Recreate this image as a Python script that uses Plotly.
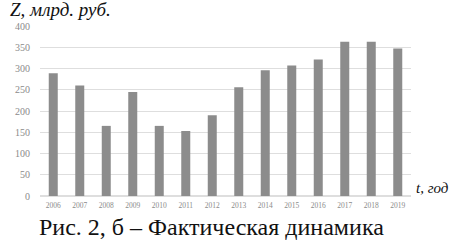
import plotly.graph_objects as go

years = ["2006", "2007", "2008", "2009", "2010", "2011", "2012",
         "2013", "2014", "2015", "2016", "2017", "2018", "2019"]
values = [289, 260, 165, 245, 165, 153, 190, 256, 296, 307, 321, 363, 363, 347]
y_ticks = [0, 50, 100, 150, 200, 250, 300, 350, 400]

PL, PR = 40, 411
PW = PR - PL

fig = go.Figure(go.Bar(x=years, y=values, marker_color="#8c8c8c",
                       marker_line_width=0))

fig.update_layout(
    width=452, height=244,
    margin=dict(l=PL, r=452 - PR, t=26, b=48),
    paper_bgcolor="white", plot_bgcolor="white",
    bargap=0.66,
    showlegend=False,
    font=dict(family="Liberation Serif", color="#999999"),
    xaxis=dict(type="category", tickfont=dict(size=7.5, color="#8a8a8a"),
               showgrid=False, showline=False, ticks="", ticklabelstandoff=3,
               automargin=False),
    yaxis=dict(range=[0, 400], tickvals=y_ticks, showgrid=True,
               gridcolor="#dedede", gridwidth=1, zeroline=True,
               zerolinecolor="#dedede", tickfont=dict(size=10, color="#8a8a8a"),
               ticks="", ticklabelstandoff=9, automargin=False),
    annotations=[
        dict(text="<i>Z, млрд. руб.</i>", xref="paper", yref="paper",
             x=(8 - PL) / PW, y=1, xanchor="left", yanchor="middle", yshift=17,
             showarrow=False, font=dict(family="Liberation Serif", size=19, color="#111111")),
        dict(text="<i>t, год</i>", xref="paper", yref="paper",
             x=(451 - PL) / PW, y=0, xanchor="right", yanchor="middle", yshift=8,
             showarrow=False, font=dict(family="Liberation Serif", size=15, color="#111111")),
        dict(text="Рис. 2, б – Фактическая динамика", xref="paper", yref="paper",
             x=(211 - PL) / PW, y=0, xanchor="center", yanchor="bottom", yshift=-46,
             showarrow=False, font=dict(family="Liberation Serif", size=24, color="#111111")),
    ],
)

fig.write_html("out.html",
               config={"displayModeBar": False},
               post_script="document.body.style.margin='0';"
                           "document.body.style.overflow='hidden';")
